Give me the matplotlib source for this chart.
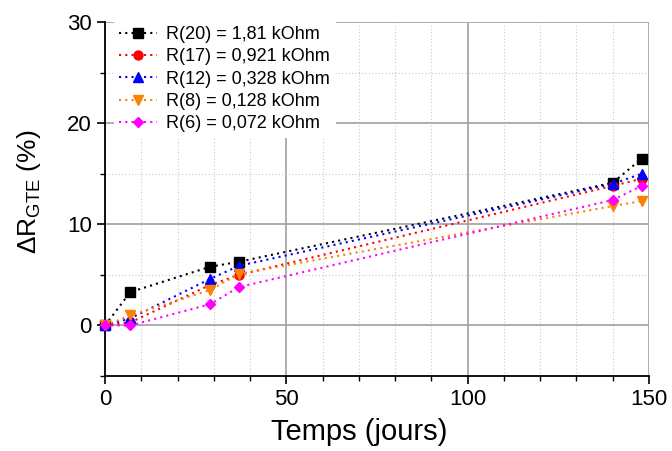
import numpy as np
import matplotlib
matplotlib.use("Agg")
import matplotlib.pyplot as plt
from matplotlib.ticker import MultipleLocator

plt.rcParams['font.family'] = ['Liberation Sans', 'DejaVu Sans']
plt.rcParams['mathtext.fontset'] = 'custom'
plt.rcParams['mathtext.rm'] = 'Liberation Sans'
plt.rcParams['mathtext.it'] = 'Liberation Sans'

days = [0, 7, 29, 37, 140, 148]

r20 = [0, 3.3, 5.8, 6.3, 14.1, 16.5]
r17 = [0, 0.3, 4.0, 5.0, 13.8, 14.5]
r12 = [0, 0.7, 4.6, 5.9, 14.0, 15.0]
r8 = [0, 1.0, 3.5, 5.1, 11.8, 12.3]
r6 = [0, 0.0, 2.1, 3.8, 12.4, 13.8]

labels = ["R(20) = 1,81 kOhm", "R(17) = 0,921 kOhm", "R(12) = 0,328 kOhm",
          "R(8) = 0,128 kOhm", "R(6) = 0,072 kOhm"]
colors = ["black", "red", "blue", "#ff7f00", "magenta"]
markers = ["s", "o", "^", "v", "D"]
series = [r20, r17, r12, r8, r6]

fig = plt.figure(figsize=(6.72, 4.51), dpi=100)
ax = fig.add_axes([105 / 672, 1 - 376 / 451, 544 / 672, 354 / 451])

for y, c, m, lab in zip(series, colors, markers, labels):
    ms = 5.5 if m == "D" else 6.5
    ax.plot(days, y, linestyle=(0, (1, 2)), lw=1.5, color=c, marker=m,
            ms=ms, label=lab, clip_on=False, zorder=3)

ax.set_xlim(0, 150)
ax.set_ylim(-5, 30)
ax.xaxis.set_major_locator(MultipleLocator(50))
ax.xaxis.set_minor_locator(MultipleLocator(10))
ax.yaxis.set_major_locator(MultipleLocator(10))
ax.yaxis.set_minor_locator(MultipleLocator(5))

ax.grid(which='major', color='#a0a0a0', lw=1.2, ls='-', zorder=0)
ax.grid(which='minor', color='#c8c8c8', lw=0.8, ls=(0, (1, 2)), zorder=0)
ax.set_axisbelow(True)

for s in ['top', 'right']:
    ax.spines[s].set_visible(False)
for s in ['left', 'bottom']:
    ax.spines[s].set_linewidth(1.3)

ax.tick_params(which='major', direction='out', length=6, width=1.2, labelsize=16)
ax.tick_params(which='minor', direction='out', length=3.5, width=1.0)

ax.set_xlabel("Temps (jours)", fontsize=21)
ax.xaxis.set_label_coords(0.468, -0.118)
ax.set_ylabel(r"$\Delta$R$_{\mathrm{GTE}}$ (%)", fontsize=19)
ax.yaxis.set_label_coords(-0.114, 0.52)

leg = ax.legend(loc='upper left', bbox_to_anchor=(0.0, 1.03), fontsize=13,
                frameon=True, framealpha=1, edgecolor='none', facecolor='white',
                handlelength=2.1, labelspacing=0.3, borderpad=0.3,
                handletextpad=0.5)
leg.get_frame().set_linewidth(0)

fig.savefig("out.png", dpi=100)
